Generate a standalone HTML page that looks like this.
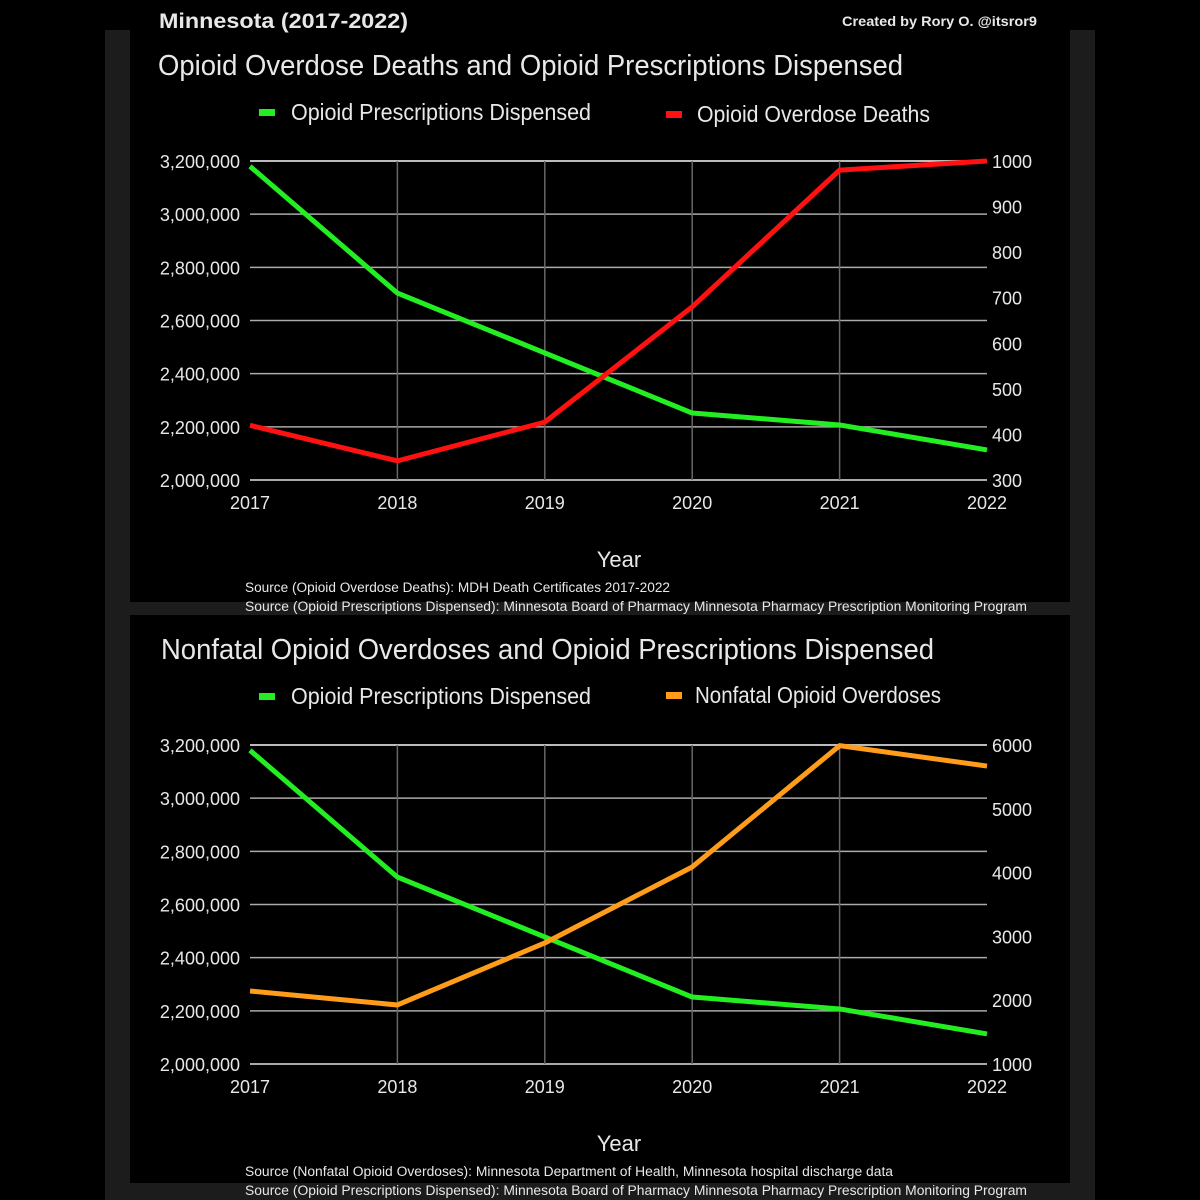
<!DOCTYPE html>
<html><head><meta charset="utf-8"><style>
html,body{margin:0;padding:0;background:#000;width:1200px;height:1200px;overflow:hidden}
svg{display:block}
text{font-family:"Liberation Sans Narrow","Liberation Sans",sans-serif;fill:#e8e8e8}
</style></head><body>
<svg id="root" width="1200" height="1200" viewBox="0 0 1200 1200">
<rect x="0" y="0" width="1200" height="1200" fill="#000"/>
<rect x="105" y="30" width="990" height="1170" fill="#1c1c1c"/>
<rect x="130" y="30" width="940" height="572" fill="#000"/>
<rect x="130" y="615" width="940" height="568" fill="#000"/>
<text x="159" y="28" font-size="21" font-weight="bold" fill="#fff" textLength="249" lengthAdjust="spacingAndGlyphs">Minnesota (2017-2022)</text>
<text x="842" y="26" font-size="14" font-weight="bold" fill="#fff" textLength="195" lengthAdjust="spacingAndGlyphs">Created by Rory O. @itsror9</text>
<g id="c1"></g>
<g id="c2"></g>
</svg>
<script>
const years = ["2017","2018","2019","2020","2021","2022"];
const prescriptions = [3180000, 2703000, 2478000, 2252000, 2207000, 2113000];
const deaths = [420, 342, 427, 680, 980, 1000];
const nonfatal = [2144, 1925, 2897, 4088, 5990, 5670];
const leftTicks = [2000000, 2200000, 2400000, 2600000, 2800000, 3000000, 3200000];
const deathTicks = [300, 400, 500, 600, 700, 800, 900, 1000];
const nonfatalTicks = [1000, 2000, 3000, 4000, 5000, 6000];

const NS = "http://www.w3.org/2000/svg";
function mk(parent, tag, attrs, txt) {
  const e = document.createElementNS(NS, tag);
  for (const k in attrs) e.setAttribute(k, attrs[k]);
  if (txt !== undefined) e.textContent = txt;
  parent.appendChild(e);
  return e;
}
function drawChart(g, o) {
  const x0 = 250, x1 = 987, yTop = o.top, yBot = o.top + 319;
  const xs = i => x0 + (x1 - x0) * i / (years.length - 1);
  const yl = v => yBot - (v - 2000000) / 1200000 * (yBot - yTop);
  const rMin = o.rTicks[0], rMax = o.rTicks[o.rTicks.length - 1];
  const yr = v => yBot - (v - rMin) / (rMax - rMin) * (yBot - yTop);
  const t = mk(g, "text", {x: o.titleX, y: yTop - 86, "font-size": 29, textLength: o.titleW, lengthAdjust: "spacingAndGlyphs"}, o.title);
  
  
  const lg1 = mk(g, "rect", {x: 259, y: yTop - 52, width: 16, height: 7, fill: "#22ee22"});
  
  
  const lt1 = mk(g, "text", {x: 291, y: yTop - 41, "font-size": 23, textLength: 300, lengthAdjust: "spacingAndGlyphs"}, "Opioid Prescriptions Dispensed");
  
  
  const lg2 = mk(g, "rect", {x: 666, y: yTop - 50 + o.legDy, width: 16, height: 7, fill: o.color});
  
  
  const lt2 = mk(g, "text", {x: o.leg2X, y: yTop - 39 + o.legDy, "font-size": 23, textLength: o.leg2W, lengthAdjust: "spacingAndGlyphs"}, o.leg2);
  
  
  leftTicks.forEach(v => {
    const y = yl(v);
    const gl = mk(g, "line", {x1: x0, x2: x1, y1: y, y2: y, stroke: v === 3200000 ? "#bbb" : "#aaa", "stroke-width": v === 2000000 || v === 3200000 ? 2 : 1.5});
    
    
    const tl = mk(g, "text", {x: 240, y: y + 7, "font-size": 18, "text-anchor": "end"}, v.toLocaleString("en-US"));
    
    
  });
  o.rTicks.forEach(v => {
    const tl = mk(g, "text", {x: 992, y: yr(v) + 7, "font-size": 18}, String(v));
    
    
  });
  years.forEach((yv, i) => {
    const x = xs(i);
    if (i > 0 && i < years.length - 1) {
      const vl = mk(g, "line", {x1: x, x2: x, y1: yTop, y2: yBot, stroke: "#666", "stroke-width": 1.5});
      
      
    }
    const xl = mk(g, "text", {x: x, y: yBot + 29, "font-size": 18, "text-anchor": "middle"}, yv);
    
    
  });
  const xt = mk(g, "text", {x: 619, y: yBot + 87, "font-size": 22, "text-anchor": "middle"}, "Year");
  
  
  const pg = mk(g, "polyline", {points: prescriptions.map((v, i) => xs(i) + "," + yl(v)).join(" "), fill: "none", stroke: "#22ee22", "stroke-width": 5, "stroke-linejoin": "round"});
  
  
  const rg = mk(g, "polyline", {points: o.data.map((v, i) => xs(i) + "," + yr(v)).join(" "), fill: "none", stroke: o.color, "stroke-width": 5, "stroke-linejoin": "round"});
  
  
  const s1 = mk(g, "text", {x: 245, y: yBot + 112, "font-size": 13.5, textLength: o.src1W, lengthAdjust: "spacingAndGlyphs"}, o.src1);
  
  
  const s2 = mk(g, "text", {x: 245, y: yBot + 131, "font-size": 13.5, textLength: 782, lengthAdjust: "spacingAndGlyphs"}, "Source (Opioid Prescriptions Dispensed): Minnesota Board of Pharmacy Minnesota Pharmacy Prescription Monitoring Program");
  
  
}
drawChart(document.getElementById("c1"), {top: 161, title: "Opioid Overdose Deaths and Opioid Prescriptions Dispensed", titleX: 158, titleW: 745,
  color: "#ff1111", key: "deaths", data: deaths, rTicks: deathTicks, leg2: "Opioid Overdose Deaths", leg2X: 697, leg2W: 233, legDy: 0,
  src1: "Source (Opioid Overdose Deaths): MDH Death Certificates 2017-2022", src1W: 425});
drawChart(document.getElementById("c2"), {top: 745, title: "Nonfatal Opioid Overdoses and Opioid Prescriptions Dispensed", titleX: 161, titleW: 773,
  color: "#ff9c1a", key: "nonfatal", data: nonfatal, rTicks: nonfatalTicks, leg2: "Nonfatal Opioid Overdoses", leg2X: 695, leg2W: 246, legDy: -3,
  src1: "Source (Nonfatal Opioid Overdoses): Minnesota Department of Health, Minnesota hospital discharge data", src1W: 648});
</script>
</body></html>
